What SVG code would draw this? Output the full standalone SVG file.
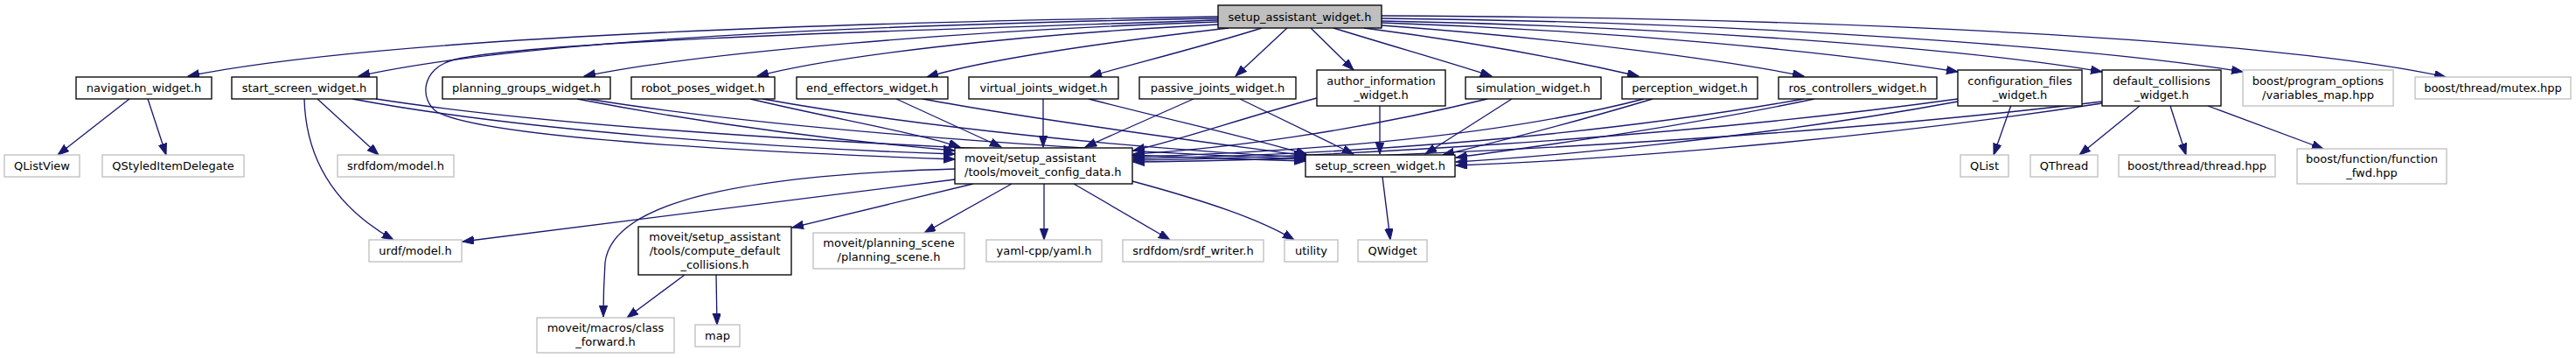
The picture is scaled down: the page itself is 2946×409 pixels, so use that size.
<svg xmlns="http://www.w3.org/2000/svg" width="2946" height="409" viewBox="0 0 2946 409">
<style>
.nd rect{fill:#fff;stroke:#000;stroke-width:1.33}
.ex rect{fill:#fff;stroke:#bfbfbf;stroke-width:1.33}
.mn rect{fill:#bfbfbf;stroke:#000;stroke-width:1.33}
text{font-family:"DejaVu Sans","Liberation Sans",sans-serif;font-size:13px;fill:#000;text-anchor:middle}
text.l{text-anchor:start}
#edges path{fill:none;stroke:#191970;stroke-width:1.33;marker-end:url(#arr)}
</style>
<defs>
<marker id="arr" markerUnits="userSpaceOnUse" markerWidth="14" markerHeight="10" refX="13" refY="4.7" orient="auto">
<path d="M0,0 L13,4.7 L0,9.4 z" fill="#191970" stroke="#191970" stroke-width="1"/>
</marker>
</defs>
<rect width="2946" height="409" fill="#fff"/>
<g id="edges">
<path d="M1393,19 C1000,25 450,40 215,87"/>
<path d="M1393,21 C1000,28 600,45 410,87"/>
<path d="M1393,23 C1100,33 620,45 520,68 C480,78 480,115 500,128 C560,160 900,175 1092,182"/>
<path d="M1393,25 C1100,35 800,60 668,87"/>
<path d="M1393,28 C1150,40 950,65 866,87"/>
<path d="M1405,32 C1250,50 1120,70 1060,88"/>
<path d="M1443,32 C1380,52 1300,72 1247,87"/>
<path d="M1472,32 L1413,87"/>
<path d="M1499,32 L1548,80"/>
<path d="M1525,32 C1600,55 1660,72 1706,87"/>
<path d="M1560,32 C1700,50 1800,70 1874,87"/>
<path d="M1580,29 C1800,45 1980,70 2063,87"/>
<path d="M1580,26 C1850,35 2100,60 2239,82"/>
<path d="M1580,24 C1900,30 2250,55 2404,82"/>
<path d="M1580,21 C2000,25 2400,55 2565,82"/>
<path d="M1580,18 C2100,20 2600,45 2797,88"/>
<path d="M148,113 L66,177"/>
<path d="M169,113 L190,177"/>
<path d="M363,113 L433,177"/>
<path d="M348,113 C350,190 390,240 450,274"/>
<path d="M403,113 C600,150 900,170 1092,176"/>
<path d="M430,113 C700,155 1200,175 1493,184"/>
<path d="M660,113 C800,140 950,160 1092,172"/>
<path d="M672,113 C900,150 1250,172 1493,182"/>
<path d="M858,113 C950,135 1050,152 1098,168"/>
<path d="M872,113 C1050,145 1300,170 1493,180"/>
<path d="M1025,113 L1145,168"/>
<path d="M1055,113 C1200,140 1400,165 1493,178"/>
<path d="M1193,113 L1193,168"/>
<path d="M1245,113 C1350,140 1450,162 1495,177"/>
<path d="M1365,113 L1241,168"/>
<path d="M1418,113 L1548,176"/>
<path d="M1506,112 C1420,135 1350,160 1296,172"/>
<path d="M1578,121 L1578,176"/>
<path d="M1701,113 C1550,150 1400,170 1296,176"/>
<path d="M1729,113 L1630,176"/>
<path d="M1880,113 C1700,160 1450,175 1296,179"/>
<path d="M1890,113 C1800,140 1700,165 1650,177"/>
<path d="M2063,113 C1800,160 1500,178 1296,181"/>
<path d="M2075,113 C1900,150 1720,172 1665,180"/>
<path d="M2239,113 C1900,160 1500,180 1296,183"/>
<path d="M2239,116 C2000,160 1750,180 1665,185"/>
<path d="M2404,116 C2000,165 1500,183 1296,185"/>
<path d="M2404,118 C2100,165 1780,185 1665,189"/>
<path d="M2300,120 L2280,177"/>
<path d="M2447,121 L2378,177"/>
<path d="M2482,121 L2500,177"/>
<path d="M2525,121 L2657,170"/>
<path d="M1092,205 L529,276"/>
<path d="M1092,193 C850,200 700,230 692,300 C690,330 690,350 690,362"/>
<path d="M1113,210 L906,260"/>
<path d="M1157,210 L1057,266"/>
<path d="M1194,210 L1194,274"/>
<path d="M1228,210 L1338,274"/>
<path d="M1295,207 C1380,230 1440,250 1480,274"/>
<path d="M1581,202 L1590,274"/>
<path d="M783,314 L717,363"/>
<path d="M819,314 L820,371"/>
</g>
<g id="n_sa" class="mn"><rect x="1393" y="6" width="187" height="26"/><text x="1486.5" y="23.5">setup_assistant_widget.h</text></g>
<g id="n_nav" class="nd"><rect x="87" y="88" width="155" height="25"/><text x="164.5" y="105">navigation_widget.h</text></g>
<g id="n_start" class="nd"><rect x="265" y="88" width="166" height="25"/><text x="348" y="105">start_screen_widget.h</text></g>
<g id="n_pg" class="nd"><rect x="506" y="88" width="192" height="25"/><text x="602" y="105">planning_groups_widget.h</text></g>
<g id="n_rp" class="nd"><rect x="722" y="88" width="164" height="25"/><text x="804" y="105">robot_poses_widget.h</text></g>
<g id="n_ee" class="nd"><rect x="911" y="88" width="173" height="25"/><text x="997.5" y="105">end_effectors_widget.h</text></g>
<g id="n_vj" class="nd"><rect x="1108" y="88" width="171" height="25"/><text x="1193.5" y="105">virtual_joints_widget.h</text></g>
<g id="n_pj" class="nd"><rect x="1303" y="88" width="179" height="25"/><text x="1392.5" y="105">passive_joints_widget.h</text></g>
<g id="n_ai" class="nd"><rect x="1506" y="80" width="147" height="41"/><text x="1579.5" y="97">author_information</text><text x="1579.5" y="113">_widget.h</text></g>
<g id="n_sim" class="nd"><rect x="1676" y="88" width="155" height="25"/><text x="1753.5" y="105">simulation_widget.h</text></g>
<g id="n_per" class="nd"><rect x="1855" y="88" width="155" height="25"/><text x="1932.5" y="105">perception_widget.h</text></g>
<g id="n_ros" class="nd"><rect x="2034" y="88" width="181" height="25"/><text x="2124.5" y="105">ros_controllers_widget.h</text></g>
<g id="n_cf" class="nd"><rect x="2239" y="80" width="142" height="41"/><text x="2310" y="97">configuration_files</text><text x="2310" y="113">_widget.h</text></g>
<g id="n_dc" class="nd"><rect x="2404" y="80" width="136" height="41"/><text x="2472" y="97">default_collisions</text><text x="2472" y="113">_widget.h</text></g>
<g id="n_vm" class="ex"><rect x="2565" y="80" width="172" height="41"/><text x="2651" y="97">boost/program_options</text><text x="2651" y="113">/variables_map.hpp</text></g>
<g id="n_mut" class="ex"><rect x="2762" y="88" width="178" height="25"/><text x="2851" y="105">boost/thread/mutex.hpp</text></g>
<g id="n_qlv" class="ex"><rect x="5" y="177" width="86" height="25"/><text x="48" y="194">QListView</text></g>
<g id="n_qsid" class="ex"><rect x="117" y="177" width="162" height="25"/><text x="198" y="194">QStyledItemDelegate</text></g>
<g id="n_srdfm" class="ex"><rect x="386" y="177" width="133" height="25"/><text x="452.5" y="194">srdfdom/model.h</text></g>
<g id="n_mcd" class="nd"><rect x="1092" y="169" width="203" height="41"/><text class="l" x="1103" y="185">moveit/setup_assistant</text><text class="l" x="1103" y="201">/tools/moveit_config_data.h</text></g>
<g id="n_ssw" class="nd"><rect x="1493" y="177" width="171" height="25"/><text x="1578.5" y="194">setup_screen_widget.h</text></g>
<g id="n_qlist" class="ex"><rect x="2242" y="177" width="55" height="25"/><text x="2269.5" y="194">QList</text></g>
<g id="n_qthread" class="ex"><rect x="2322" y="177" width="77" height="25"/><text x="2360.5" y="194">QThread</text></g>
<g id="n_bthread" class="ex"><rect x="2423" y="177" width="179" height="25"/><text x="2512.5" y="194">boost/thread/thread.hpp</text></g>
<g id="n_bfunc" class="ex"><rect x="2627" y="170" width="171" height="40"/><text x="2712.5" y="186">boost/function/function</text><text x="2712.5" y="202">_fwd.hpp</text></g>
<g id="n_urdf" class="ex"><rect x="422" y="274" width="106" height="25"/><text x="475" y="291">urdf/model.h</text></g>
<g id="n_cdc" class="nd"><rect x="730" y="259" width="175" height="55"/><text x="817.5" y="275">moveit/setup_assistant</text><text x="817.5" y="291">/tools/compute_default</text><text x="817.5" y="307">_collisions.h</text></g>
<g id="n_ps" class="ex"><rect x="930" y="266" width="173" height="41"/><text x="1016.5" y="282">moveit/planning_scene</text><text x="1016.5" y="298">/planning_scene.h</text></g>
<g id="n_yaml" class="ex"><rect x="1128" y="274" width="132" height="25"/><text x="1194" y="291">yaml-cpp/yaml.h</text></g>
<g id="n_srdfw" class="ex"><rect x="1284" y="274" width="161" height="25"/><text x="1364.5" y="291">srdfdom/srdf_writer.h</text></g>
<g id="n_util" class="ex"><rect x="1469" y="274" width="61" height="25"/><text x="1499.5" y="291">utility</text></g>
<g id="n_qw" class="ex"><rect x="1553" y="274" width="79" height="25"/><text x="1592.5" y="291">QWidget</text></g>
<g id="n_macros" class="ex"><rect x="614" y="363" width="157" height="40"/><text x="692.5" y="379">moveit/macros/class</text><text x="692.5" y="395">_forward.h</text></g>
<g id="n_map" class="ex"><rect x="795" y="371" width="51" height="25"/><text x="820.5" y="388">map</text></g>
</svg>
